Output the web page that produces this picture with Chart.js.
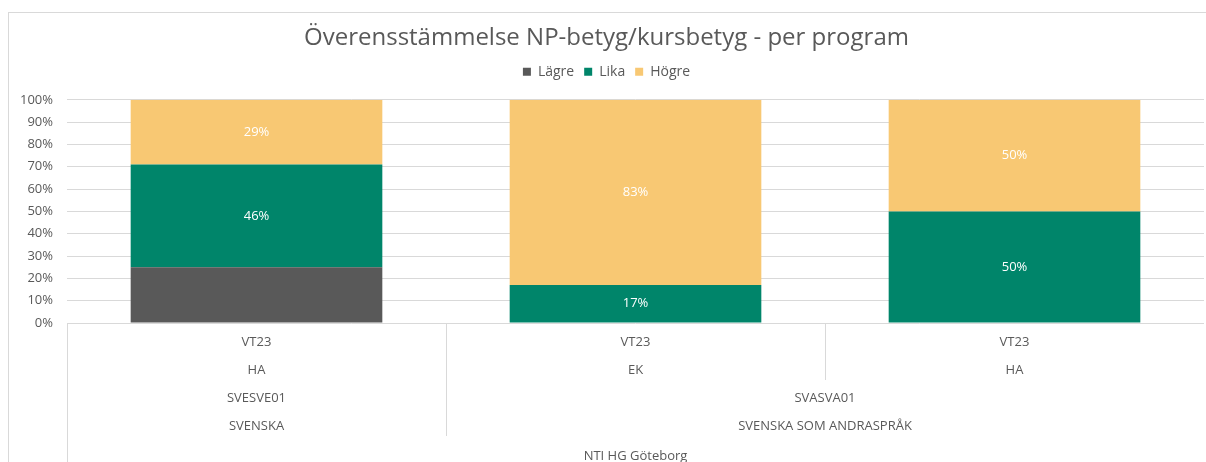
<!DOCTYPE html>
<html lang="sv">
<head>
  <meta charset="utf-8" />
  <title>Överensstämmelse NP-betyg/kursbetyg</title>
  <style>
body { margin: 0; background: #fff; overflow: hidden; }
#box {
  position: absolute;
  left: 8px;
  top: 12px;
  width: 1208px;
  height: 460px;
  border: 1px solid #d9d9d9;
}
  </style>
</head>
<body>
  <div id="box"><canvas id="myChart" width="1208" height="460"></canvas></div>
  <script src="https://cdn.jsdelivr.net/npm/chart.js"></script>
  <script>
// kategorier (flera nivåer, innerst först)
const periods = ['VT23', 'VT23', 'VT23'];
const programs = ['HA', 'EK', 'HA'];
const courses = ['SVESVE01', 'SVASVA01', 'SVASVA01'];
const subjects = ['SVENSKA', 'SVENSKA SOM ANDRASPRÅK', 'SVENSKA SOM ANDRASPRÅK'];
const schools = ['NTI HG Göteborg', 'NTI HG Göteborg', 'NTI HG Göteborg'];

// andelar i procent
const lagre = [25, 0, 0];
const lika = [46, 17, 50];
const hogre = [29, 83, 50];

const yTicks = [0, 10, 20, 30, 40, 50, 60, 70, 80, 90, 100];

const textColor = '#595959';
const fontFam = "'Open Sans', sans-serif";
const levels = [periods, programs, courses, subjects, schools];

// etiketter i staplarna
const barLabels = {
  id: 'barLabels',
  afterDatasetsDraw(chart) {
    const ctx = chart.ctx;
    ctx.save();
    ctx.font = '13px ' + fontFam;
    ctx.fillStyle = '#fff';
    ctx.textAlign = 'center';
    ctx.textBaseline = 'middle';
    chart.data.datasets.forEach((ds, di) => {
      if (!ds.showLabel) return;
      const meta = chart.getDatasetMeta(di);
      meta.data.forEach((bar, i) => {
        const v = ds.data[i];
        if (!v) return;
        ctx.fillText(v + '%', bar.x, (bar.y + bar.base) / 2);
      });
    });
    ctx.restore();
  }
};

// lite extra luft under förklaringen
const legendMargin = {
  id: 'legendMargin',
  beforeInit(chart) {
    const fit = chart.legend.fit;
    chart.legend.fit = function () {
      fit.bind(chart.legend)();
      this.height += 11;
    };
  }
};

// flernivå-axel under diagrammet
const multiAxis = {
  id: 'multiAxis',
  afterDraw(chart) {
    const ctx = chart.ctx;
    const x = chart.scales.x;
    const top = chart.chartArea.bottom;
    const n = periods.length;
    const w = (x.right - x.left) / n;
    const rowY = [19, 47, 75, 103, 133];
    ctx.save();
    ctx.strokeStyle = '#d9d9d9';
    ctx.lineWidth = 1;
    // vänster kant
    ctx.beginPath();
    ctx.moveTo(Math.round(x.left) + 0.5, top);
    ctx.lineTo(Math.round(x.left) + 0.5, chart.height);
    ctx.stroke();
    // avdelare mellan kategorier
    for (let i = 1; i < n; i++) {
      let deepest = -1;
      levels.forEach((lv, li) => { if (lv[i] !== lv[i - 1]) deepest = li; });
      if (deepest < 0) continue;
      const px = Math.round(x.getPixelForValue(i) - w / 2) + 0.5;
      ctx.beginPath();
      ctx.moveTo(px, top);
      ctx.lineTo(px, top + rowY[deepest] + 10);
      ctx.stroke();
    }
    ctx.font = '13px ' + fontFam;
    ctx.fillStyle = textColor;
    ctx.textAlign = 'center';
    ctx.textBaseline = 'middle';
    levels.forEach((lv, li) => {
      let start = 0;
      for (let i = 1; i <= n; i++) {
        let same = i < n;
        if (same) {
          for (let k = li; k < levels.length; k++) {
            if (levels[k][i] !== levels[k][start]) { same = false; break; }
          }
        }
        if (!same) {
          const cx = (x.getPixelForValue(start) + x.getPixelForValue(i - 1)) / 2;
          ctx.fillText(lv[start], cx, top + rowY[li]);
          start = i;
        }
      }
    });
    ctx.restore();
  }
};

const data = {
  labels: periods,
  datasets: [{
    label: 'Lägre',
    data: lagre,
    backgroundColor: '#595959',
    showLabel: false
  }, {
    label: 'Lika',
    data: lika,
    backgroundColor: '#00856a',
    showLabel: true
  }, {
    label: 'Högre',
    data: hogre,
    backgroundColor: '#f8c873',
    showLabel: true
  }]
};

const config = {
  type: 'bar',
  data: data,
  options: {
    responsive: false,
    animation: false,
    layout: { padding: { left: 0, right: 13, top: 0, bottom: 142 } },
    datasets: { bar: { barPercentage: 1, categoryPercentage: 0.664, borderWidth: 0 } },
    plugins: {
      title: {
        display: true,
        text: 'Överensstämmelse NP-betyg/kursbetyg - per program',
        color: textColor,
        font: { family: fontFam, size: 24, weight: 'normal' },
        padding: { top: 11, bottom: 2 }
      },
      legend: {
        display: true,
        labels: {
          color: textColor,
          boxWidth: 8,
          boxHeight: 8,
          font: { family: fontFam, size: 14 },
          padding: 10
        }
      },
      tooltip: { enabled: false }
    },
    scales: {
      x: {
        stacked: true,
        grid: { display: false },
        border: { display: false },
        ticks: { display: false }
      },
      y: {
        stacked: true,
        min: 0,
        max: 100,
        afterBuildTicks: (scale) => { scale.ticks = yTicks.map(v => ({ value: v })); },
        afterFit: (scale) => { scale.width = 58; },
        grid: { color: '#d9d9d9', drawTicks: false },
        border: { display: false },
        ticks: {
          color: textColor,
          padding: 14,
          font: { family: fontFam, size: 13 },
          callback: (value) => value + '%'
        }
      }
    }
  },
  plugins: [barLabels, legendMargin, multiAxis]
};

const chart = new Chart(document.getElementById('myChart'), config);
  </script>
</body>
</html>
